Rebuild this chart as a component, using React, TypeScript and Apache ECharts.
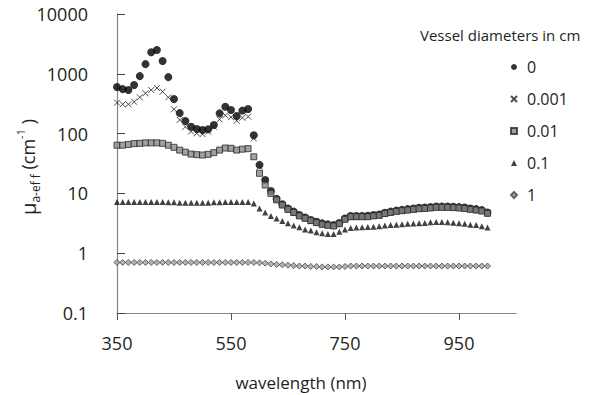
import React, { useEffect, useRef } from "react";
import * as echarts from "echarts";

const wavelengths = [
  350, 360, 370, 380, 390, 400, 410, 420, 430, 440, 450, 460, 470, 480, 490, 500, 510, 520, 530, 540,
  550, 560, 570, 580, 590, 600, 610, 620, 630, 640, 650, 660, 670, 680, 690, 700, 710, 720, 730, 740,
  750, 760, 770, 780, 790, 800, 810, 820, 830, 840, 850, 860, 870, 880, 890, 900, 910, 920, 930, 940,
  950, 960, 970, 980, 990, 1000,
];

const d0 = [
  600, 555, 537, 650, 915, 1450, 2300, 2500, 1640, 880, 380, 220, 162, 130, 119, 115, 118, 139, 218, 282,
  248, 197, 242, 258, 94, 30, 16.7, 11, 8.1, 6.6, 5.6, 4.95, 4.35, 3.95, 3.6, 3.35, 3.15, 3.03, 2.95, 3.2,
  3.8, 4.2, 4.2, 4.2, 4.22, 4.35, 4.45, 4.75, 4.95, 5.15, 5.3, 5.45, 5.6, 5.75, 5.8, 5.9, 6.05, 6.05, 6.05, 5.98,
  5.9, 5.8, 5.6, 5.45, 5.25, 4.8,
];

const d0001 = [
  329, 309, 309, 341, 404, 472, 536, 579, 502, 404, 255, 169, 130, 108, 101, 98, 108, 130, 173, 202,
  188, 164, 184, 192, 83, 28, 16, 10.6, 8, 6.4, 5.4, 4.8, 4.2, 3.84, 3.5, 3.24, 3.04, 2.93, 2.85, 3.1,
  3.7, 4.07, 4.07, 4.07, 4.07, 4.2, 4.3, 4.6, 4.8, 5.0, 5.14, 5.27, 5.4, 5.55, 5.6, 5.7, 5.85, 5.85, 5.85, 5.78,
  5.7, 5.6, 5.4, 5.27, 5.07, 4.65,
];

const d001 = [
  64, 64, 66, 68, 68.7, 70, 70, 70, 68.7, 64, 59, 53, 49, 45.5, 44.4, 43.8, 45, 48, 53, 57.4,
  56.8, 53, 55, 56, 41, 21.7, 13.8, 10, 7.8, 6.4, 5.4, 4.8, 4.2, 3.84, 3.5, 3.24, 3.04, 2.93, 2.85, 3.1,
  3.7, 4.07, 4.07, 4.07, 4.07, 4.2, 4.3, 4.6, 4.8, 5.0, 5.14, 5.27, 5.4, 5.55, 5.6, 5.7, 5.85, 5.85, 5.85, 5.78,
  5.7, 5.6, 5.4, 5.27, 5.07, 4.65,
];

const d01 = [
  7.2, 7.2, 7.2, 7.2, 7.2, 7.2, 7.2, 7.2, 7.2, 7.1, 7.1, 7.0, 7.0, 7.0, 7.0, 7.0, 7.0, 7.1, 7.1, 7.2,
  7.2, 7.2, 7.2, 7.2, 6.8, 5.6, 4.8, 4.2, 3.8, 3.47, 3.16, 2.9, 2.71, 2.5, 2.4, 2.24, 2.15, 2.09, 2.09, 2.29,
  2.5, 2.64, 2.7, 2.72, 2.75, 2.78, 2.83, 2.9, 2.95, 3.0, 3.05, 3.1, 3.14, 3.18, 3.2, 3.3, 3.32, 3.32, 3.28, 3.24,
  3.18, 3.1, 3.0, 2.95, 2.83, 2.7,
];

const d1 = [
  0.7, 0.7, 0.7, 0.7, 0.7, 0.7, 0.7, 0.7, 0.7, 0.7, 0.7, 0.7, 0.7, 0.7, 0.7, 0.7, 0.7, 0.7, 0.7, 0.7,
  0.7, 0.7, 0.7, 0.7, 0.7, 0.69, 0.68, 0.66, 0.65, 0.64, 0.63, 0.62, 0.61, 0.61, 0.6, 0.6, 0.59, 0.59, 0.59, 0.59,
  0.6, 0.61, 0.61, 0.61, 0.61, 0.61, 0.61, 0.61, 0.61, 0.61, 0.61, 0.61, 0.61, 0.61, 0.61, 0.61, 0.61, 0.61, 0.61, 0.61,
  0.61, 0.61, 0.61, 0.61, 0.61, 0.61,
];

const seriesNames = ["0", "0.001", "0.01", "0.1", "1"];
const xTickValues = [350, 550, 750, 950];
const yTickLabels = ["0.1", "1", "10", "100", "1000", "10000"];

const FONT = "'Open Sans', 'DejaVu Sans', sans-serif";
const TEXT = "#231f20";

function pairs(ys: number[]) {
  return wavelengths.map((w, i) => [w, ys[i]]);
}

export default function App() {
  const ref = useRef<HTMLDivElement>(null);
  useEffect(() => {
    if (!ref.current) return;
    const chart = echarts.init(ref.current, undefined, { renderer: "svg" });
    const fmtY = (v: number) => {
      const idx = Math.round(Math.log10(v)) + 1;
      return yTickLabels[idx] ?? String(v);
    };
    chart.setOption({
      animation: false,
      backgroundColor: "#ffffff",
      textStyle: { fontFamily: FONT },
      grid: { left: 117, right: 74, top: 14, bottom: 82, containLabel: false },
      xAxis: {
        type: "value",
        min: 350,
        max: 1050,
        splitLine: { show: false },
        axisLine: { lineStyle: { color: "#858585", width: 1.2 } },
        axisTick: {
          inside: false,
          length: 7,
          customValues: xTickValues,
          lineStyle: { color: "#555", width: 1 },
        },
        axisLabel: {
          customValues: xTickValues,
          margin: 21,
          fontSize: 18,
          fontFamily: FONT,
          color: TEXT,
          formatter: (v: number) => String(v),
        },
      },
      yAxis: {
        type: "log",
        logBase: 10,
        min: 0.1,
        max: 10000,
        splitLine: { show: false },
        axisLine: { show: true, lineStyle: { color: "#858585", width: 1.2 } },
        axisTick: { show: true, inside: true, length: 8, lineStyle: { color: "#444", width: 1 } },
        axisLabel: { margin: 29, fontSize: 18, fontFamily: FONT, color: TEXT, formatter: fmtY },
      },
      legend: {
        orient: "vertical",
        left: 505,
        top: 54,
        itemWidth: 6,
        itemHeight: 6,
        itemGap: 16,
        data: seriesNames,
        textStyle: { fontSize: 16, fontFamily: FONT, color: TEXT, padding: [0, 0, 0, 5] },
      },
      graphic: [
        {
          type: "text",
          x: 420,
          y: 35,
          style: {
            text: "Vessel diameters in cm",
            fontSize: 15,
            fontFamily: FONT,
            fill: TEXT,
            align: "left",
            verticalAlign: "middle",
          },
        },
        {
          type: "text",
          x: 301,
          y: 382,
          style: {
            text: "wavelength (nm)",
            fontSize: 17,
            fontFamily: FONT,
            fill: TEXT,
            align: "center",
            verticalAlign: "middle",
          },
        },
        {
          type: "text",
          x: 28,
          y: 167,
          rotation: Math.PI / 2,
          style: {
            text: "{mu|μ}{sub|a-ef f}{n| (cm}{sup|-1}{n| )}",
            fill: TEXT,
            align: "center",
            verticalAlign: "middle",
            rich: {
              mu: { fontSize: 20, fontFamily: FONT, fill: TEXT, lineHeight: 26 },
              n: { fontSize: 18, fontFamily: FONT, fill: TEXT, lineHeight: 26 },
              sub: { fontSize: 12, fontFamily: FONT, fill: TEXT, verticalAlign: "bottom", lineHeight: 13 },
              sup: { fontSize: 11, fontFamily: FONT, fill: TEXT, verticalAlign: "top", lineHeight: 12 },
            },
          },
        },
      ],
      series: [
        {
          name: "0",
          type: "scatter",
          symbol: "circle",
          symbolSize: 8,
          itemStyle: { color: "#000000" },
          data: pairs(d0),
        },
        {
          name: "0.001",
          type: "scatter",
          symbol: "path://M0,0L10,10M10,0L0,10",
          symbolSize: 6,
          itemStyle: { color: "rgba(0,0,0,0)", borderColor: "#222", borderWidth: 1 },
          data: pairs(d0001),
        },
        {
          name: "0.01",
          type: "scatter",
          symbol: "rect",
          symbolSize: 6,
          itemStyle: { color: "#8a8a8a", borderColor: "#2a2a2a", borderWidth: 1 },
          data: pairs(d001),
        },
        {
          name: "0.1",
          type: "scatter",
          symbol: "triangle",
          symbolSize: 6,
          itemStyle: { color: "#111111" },
          data: pairs(d01),
        },
        {
          name: "1",
          type: "scatter",
          symbol: "diamond",
          symbolSize: 6,
          itemStyle: { color: "#a0a0a0", borderColor: "#444", borderWidth: 1 },
          data: pairs(d1),
        },
      ],
    });
    return () => chart.dispose();
  }, []);
  return (
    <div
      ref={ref}
      style={{ position: "fixed", left: 0, top: 0, width: 590, height: 395, background: "#fff" }}
    />
  );
}
